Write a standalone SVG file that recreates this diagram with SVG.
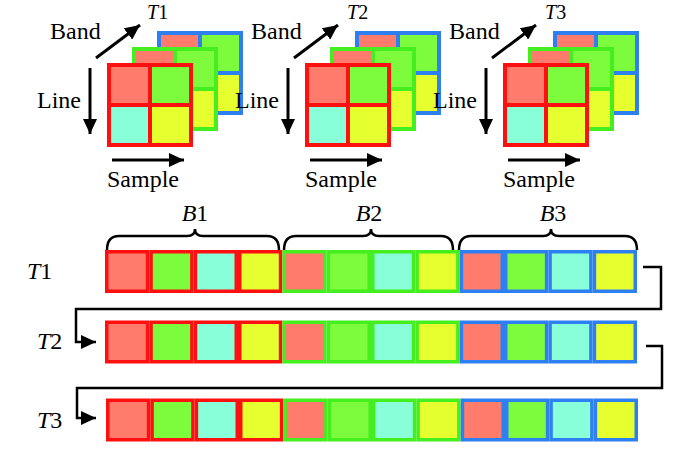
<svg xmlns="http://www.w3.org/2000/svg" width="700" height="449" viewBox="0 0 700 449">
<style>
text{font-family:'Liberation Serif','Times New Roman','DejaVu Serif',serif;font-size:24px;fill:#000}
text.tl{font-size:20px}
.s{fill:#FF7B6B}.g{fill:#7CFC3C}.c{fill:#88FFD9}.y{fill:#E6FF2E}
.bR{stroke:#FF1010;stroke-width:4}.bG{stroke:#44EE1F;stroke-width:4}.bB{stroke:#2E80F2;stroke-width:4}
.cell{stroke-width:3.5}
.ln{fill:none;stroke:#000;stroke-width:3}
.cn{fill:none;stroke:#000;stroke-width:2.5}
.br{fill:none;stroke:#000;stroke-width:2.5}
</style>
<defs>
<marker id="ah" markerUnits="userSpaceOnUse" markerWidth="16" markerHeight="14" refX="15" refY="7" orient="auto">
<path d="M0,0 L15,7 L0,14 z" fill="#000"/>
</marker>
<g id="frame">
<rect x="109" y="65" width="41" height="40" class="s"/>
<rect x="150" y="65" width="41" height="40" class="g"/>
<rect x="109" y="105" width="41" height="40" class="c"/>
<rect x="150" y="105" width="41" height="40" class="y"/>
</g>
<g id="stack">
<g transform="translate(50,-32)" class="bB"><use href="#frame"/></g>
<g transform="translate(25,-16)" class="bG"><use href="#frame"/></g>
<g class="bR"><use href="#frame"/></g>
<line x1="96" y1="58" x2="140" y2="25" class="ln" marker-end="url(#ah)"/>
<line x1="90" y1="68" x2="90" y2="134" class="ln" marker-end="url(#ah)"/>
<line x1="112" y1="160" x2="184" y2="160" class="ln" marker-end="url(#ah)"/>
</g>
<g id="row">
<g class="bR cell">
<rect x="107.75" y="1.75" width="40.83" height="39.5" class="s"/>
<rect x="152.08" y="1.75" width="40.83" height="39.5" class="g"/>
<rect x="196.42" y="1.75" width="40.83" height="39.5" class="c"/>
<rect x="240.75" y="1.75" width="40.83" height="39.5" class="y"/>
</g>
<g class="bG cell">
<rect x="285.08" y="1.75" width="40.83" height="39.5" class="s"/>
<rect x="329.42" y="1.75" width="40.83" height="39.5" class="g"/>
<rect x="373.75" y="1.75" width="40.83" height="39.5" class="c"/>
<rect x="418.08" y="1.75" width="40.83" height="39.5" class="y"/>
</g>
<g class="bB cell">
<rect x="462.42" y="1.75" width="40.83" height="39.5" class="s"/>
<rect x="506.75" y="1.75" width="40.83" height="39.5" class="g"/>
<rect x="551.08" y="1.75" width="40.83" height="39.5" class="c"/>
<rect x="595.42" y="1.75" width="40.83" height="39.5" class="y"/>
</g>
</g>
</defs>

<g id="cube-T1">
<use href="#stack"/>
<text x="50" y="39">Band</text>
<text x="37" y="108">Line</text>
<text x="107" y="187">Sample</text>
<text x="147" y="19" class="tl"><tspan font-style="italic">T</tspan>1</text>
</g>
<g id="cube-T2" transform="translate(198,0)">
<use href="#stack"/>
<text x="53" y="39">Band</text>
<text x="37" y="108">Line</text>
<text x="107" y="187">Sample</text>
<text x="149" y="19" class="tl"><tspan font-style="italic">T</tspan>2</text>
</g>
<g id="cube-T3" transform="translate(396,0)">
<use href="#stack"/>
<text x="53" y="39">Band</text>
<text x="37" y="108">Line</text>
<text x="107" y="187">Sample</text>
<text x="149" y="19" class="tl"><tspan font-style="italic">T</tspan>3</text>
</g>

<g id="braces">
<path class="br" d="M107,250 Q107,236 119,236 H187 Q195,236 195,229 Q195,236 203,236 H267 Q279,236 279,250"/>
<path class="br" d="M284,250 Q284,236 296,236 H363 Q371,236 371,229 Q371,236 379,236 H441 Q453,236 453,250"/>
<path class="br" d="M459,250 Q459,236 471,236 H543 Q551,236 551,229 Q551,236 559,236 H625 Q637,236 637,250"/>
<text x="195" y="221" text-anchor="middle"><tspan font-style="italic">B</tspan>1</text>
<text x="369" y="221" text-anchor="middle"><tspan font-style="italic">B</tspan>2</text>
<text x="553" y="221" text-anchor="middle"><tspan font-style="italic">B</tspan>3</text>
</g>

<g id="row-T1" transform="translate(-1,250)">
<use href="#row"/>
</g>
<g id="row-T2" transform="translate(-1,320.5)">
<use href="#row"/>
</g>
<g id="row-T3" transform="translate(0,398.5)">
<use href="#row"/>
</g>
<text x="27" y="279"><tspan font-style="italic">T</tspan>1</text>
<text x="37" y="349"><tspan font-style="italic">T</tspan>2</text>
<text x="37" y="428"><tspan font-style="italic">T</tspan>3</text>

<g id="connectors">
<path class="cn" d="M643,267 H661 V309 H76 V342 H96" marker-end="url(#ah)"/>
<path class="cn" d="M646,346 H662 V388 H77 V418 H96" marker-end="url(#ah)"/>
</g>
</svg>
